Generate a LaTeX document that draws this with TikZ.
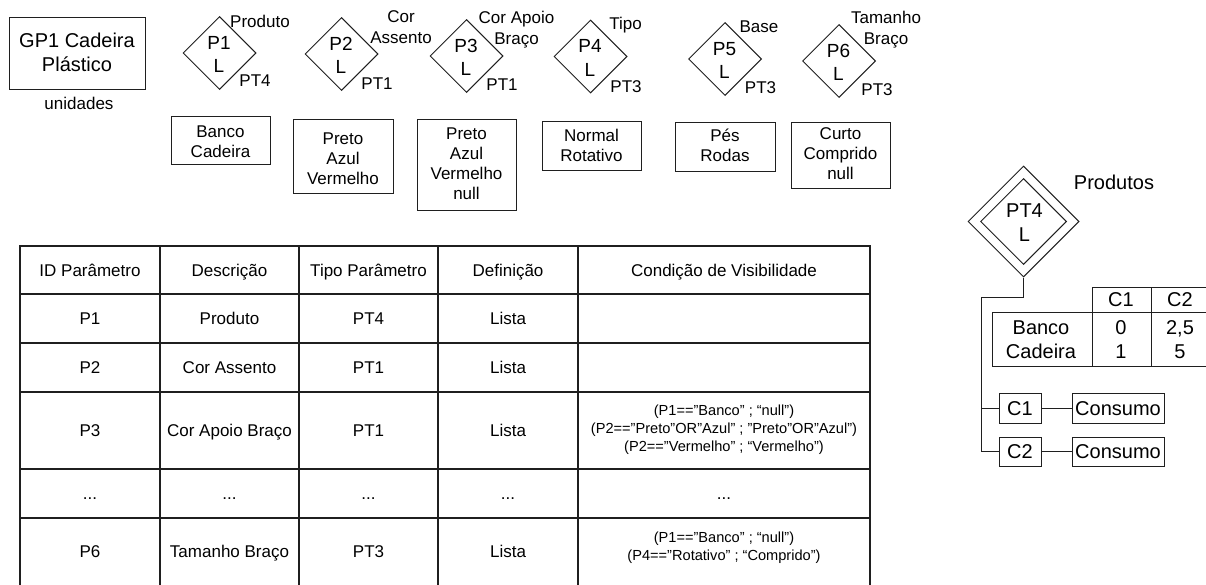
\documentclass[tikz,border=0pt]{standalone}
\usepackage{fontspec}
\setmainfont{Liberation Sans}
\usetikzlibrary{shapes.geometric}

\newcommand\fsz[2]{\fontsize{#1}{#2}\selectfont}

\begin{document}
\begin{tikzpicture}[x=1pt,y=-1pt,line width=1pt,
  ln/.style={draw=black!88},
  rbox/.style={ln,rectangle,inner sep=0pt},
  dia/.style={ln,diamond,inner sep=0pt,minimum width=73pt,minimum height=73pt},
  dtxt/.style={inner sep=0pt,align=center,font=\fsz{19}{23.5}},
  lbl/.style={inner sep=0pt,align=center,font=\fsz{17}{21}},
  vtxt/.style={inner sep=0pt,align=center,font=\fsz{17}{20}},
  cell/.style={inner sep=0pt,font=\fsz{17}{20},text height=12.2pt,text depth=0pt},
  cond/.style={inner sep=0pt,align=center,font=\fsz{14.6}{17.8}},
  big/.style={inner sep=0pt,font=\fsz{20}{24},text height=14.3pt,text depth=0pt},
  bigml/.style={inner sep=0pt,align=center,font=\fsz{20}{24.5}}]
\useasboundingbox (0,0) rectangle (1206,584);
\clip (0,0) rectangle (1206,584);

% ---------- group box ----------
\node[rbox,minimum width=136pt,minimum height=72pt] (gp) at (77,53) {};
\node[bigml] (gpt) at (77,52.5) {GP1 Cadeira\\Plástico};
\node[inner sep=0pt,font=\fsz{17}{20}] (uni) at (79,103) {unidades};

% ---------- parameter diamonds ----------
\node[dia] (p1) at (219.5,53) {};
\node[dtxt] (p1t) at (219,54.5) {P1\\L};
\node[lbl] (p1n) at (260,21) {Produto};
\node[lbl] (p1k) at (255,81) {PT4};

\node[dia] (p2) at (341.5,54) {};
\node[dtxt] (p2t) at (341,55.5) {P2\\L};
\node[lbl] (p2n) at (401,27.5) {Cor\\Assento};
\node[lbl] (p2k) at (377,83.5) {PT1};

\node[dia] (p3) at (466.5,56) {};
\node[dtxt] (p3t) at (466,57.5) {P3\\L};
\node[lbl] (p3n) at (516.5,30) {Cor Apoio\\Braço};
\node[lbl] (p3k) at (502,85) {PT1};

\node[dia] (p4) at (590.5,56.5) {};
\node[dtxt] (p4t) at (590,58) {P4\\L};
\node[lbl] (p4n) at (625.5,25.5) {Tipo};
\node[lbl] (p4k) at (626,86.5) {PT3};

\node[dia] (p5) at (725,59) {};
\node[dtxt] (p5t) at (724.5,60.5) {P5\\L};
\node[lbl] (p5n) at (759,26.5) {Base};
\node[lbl] (p5k) at (760.5,87.5) {PT3};

\node[dia] (p6) at (839,61) {};
\node[dtxt] (p6t) at (838.5,62.5) {P6\\L};
\node[lbl] (p6n) at (886,30) {Tamanho\\Braço};
\node[lbl] (p6k) at (877,90) {PT3};

% ---------- value lists ----------
\node[rbox,minimum width=99pt,minimum height=48pt] (v1) at (220.5,140) {};
\node[vtxt] (v1t) at (220.5,141.5) {Banco\\Cadeira};
\node[rbox,minimum width=100pt,minimum height=74pt] (v2) at (343,156) {};
\node[vtxt] (v2t) at (343,159) {Preto\\Azul\\Vermelho};
\node[rbox,minimum width=99pt,minimum height=91pt] (v3) at (466.5,164.5) {};
\node[vtxt] (v3t) at (466.5,164) {Preto\\Azul\\Vermelho\\null};
\node[rbox,minimum width=99pt,minimum height=49pt] (v4) at (591.5,145.5) {};
\node[vtxt] (v4t) at (591.5,145.5) {Normal\\Rotativo};
\node[rbox,minimum width=100pt,minimum height=49pt] (v5) at (725,146.5) {};
\node[vtxt] (v5t) at (725,145.5) {Pés\\Rodas};
\node[rbox,minimum width=99pt,minimum height=66pt] (v6) at (840.5,155) {};
\node[vtxt] (v6t) at (840.5,154) {Curto\\Comprido\\null};

% ---------- parameter table ----------
\begin{scope}[line width=1.1pt]
\draw[ln] (20,246) rectangle (870,600);
\foreach \yy in {294,343,392,469,518} \draw[ln] (20,\yy) -- (870,\yy);
\foreach \xx in {160,299,438,578} \draw[ln] (\xx,246) -- (\xx,600);
\end{scope}

\node[cell] (h1) at (90,270) {ID Parâmetro};
\node[cell] (h2) at (229.5,270) {Descrição};
\node[cell] (h3) at (368.5,270) {Tipo Parâmetro};
\node[cell] (h4) at (508,270) {Definição};
\node[cell] (h5) at (724,270) {Condição de Visibilidade};

\node[cell] (r1a) at (90,318.5) {P1};
\node[cell] (r1b) at (229.5,318.5) {Produto};
\node[cell] (r1c) at (368.5,318.5) {PT4};
\node[cell] (r1d) at (508,318.5) {Lista};

\node[cell] (r2a) at (90,367.5) {P2};
\node[cell] (r2b) at (229.5,367.5) {Cor Assento};
\node[cell] (r2c) at (368.5,367.5) {PT1};
\node[cell] (r2d) at (508,367.5) {Lista};

\node[cell] (r3a) at (90,430.5) {P3};
\node[cell] (r3b) at (229.5,430.5) {Cor Apoio Braço};
\node[cell] (r3c) at (368.5,430.5) {PT1};
\node[cell] (r3d) at (508,430.5) {Lista};
\node[cond] (r3e) at (724,429.5) {(P1=="Banco" ; “null”)\\(P2=="Preto"OR"Azul" ; "Preto"OR"Azul")\\(P2=="Vermelho" ; “Vermelho”)};

\node[cell] (r4a) at (90,493.5) {...};
\node[cell] (r4b) at (229.5,493.5) {...};
\node[cell] (r4c) at (368.5,493.5) {...};
\node[cell] (r4d) at (508,493.5) {...};
\node[cell] (r4e) at (724,493.5) {...};

\node[cell] (r6a) at (90,551) {P6};
\node[cell] (r6b) at (229.5,551) {Tamanho Braço};
\node[cell] (r6c) at (368.5,551) {PT3};
\node[cell] (r6d) at (508,551) {Lista};
\node[cond] (r6e) at (724,548) {(P1=="Banco" ; “null”)\\(P4=="Rotativo" ; “Comprido”)};

% ---------- product type PT4 ----------
\node[ln,diamond,inner sep=0pt,minimum width=111pt,minimum height=111pt] (pd) at (1023.5,221.5) {};
\node[ln,diamond,inner sep=0pt,minimum width=86pt,minimum height=86pt] (pdi) at (1023.5,221.5) {};
\node[bigml] (pdt) at (1024.5,222.5) {PT4\\L};
\node[inner sep=0pt,font=\fsz{20}{24}] (pdn) at (1114,182) {Produtos};

\node[rbox,minimum width=42pt,minimum height=30pt] (c1) at (1020,408) {};
\node[big] (c1t) at (1020,408) {C1};
\node[rbox,minimum width=42pt,minimum height=29pt] (c2) at (1020,451.5) {};
\node[big] (c2t) at (1020,451.5) {C2};
\node[rbox,minimum width=92pt,minimum height=30pt] (k1) at (1118,408) {};
\node[big] (k1t) at (1118,408) {Consumo};
\node[rbox,minimum width=92pt,minimum height=29pt] (k2) at (1118,451.5) {};
\node[big] (k2t) at (1118,451.5) {Consumo};

\coordinate (jn) at (981,297);
\draw[ln] (pd.south) |- (jn) |- (c2.west);
\draw[ln] (jn |- c1.west) -- (c1.west);
\draw[ln] (c1.east) -- (k1.west);
\draw[ln] (c2.east) -- (k2.west);

% consumption table
\draw[ln] (1092,312) -- (1092,287) -- (1215,287);
\draw[ln] (992,312) rectangle (1215,366);
\draw[ln] (1092,312) -- (1092,366);
\draw[ln] (1151,287) -- (1151,366);
\node[big] (tc1) at (1121,299.5) {C1};
\node[big] (tc2) at (1180,299.5) {C2};
\node[big] (tr1) at (1041,327) {Banco};
\node[big] (tr2) at (1041,351) {Cadeira};
\node[big] (t11) at (1121,327) {0};
\node[big] (t21) at (1121,351) {1};
\node[big] (t12) at (1180,327) {2,5};
\node[big] (t22) at (1180,351) {5};
\end{tikzpicture}
\end{document}
